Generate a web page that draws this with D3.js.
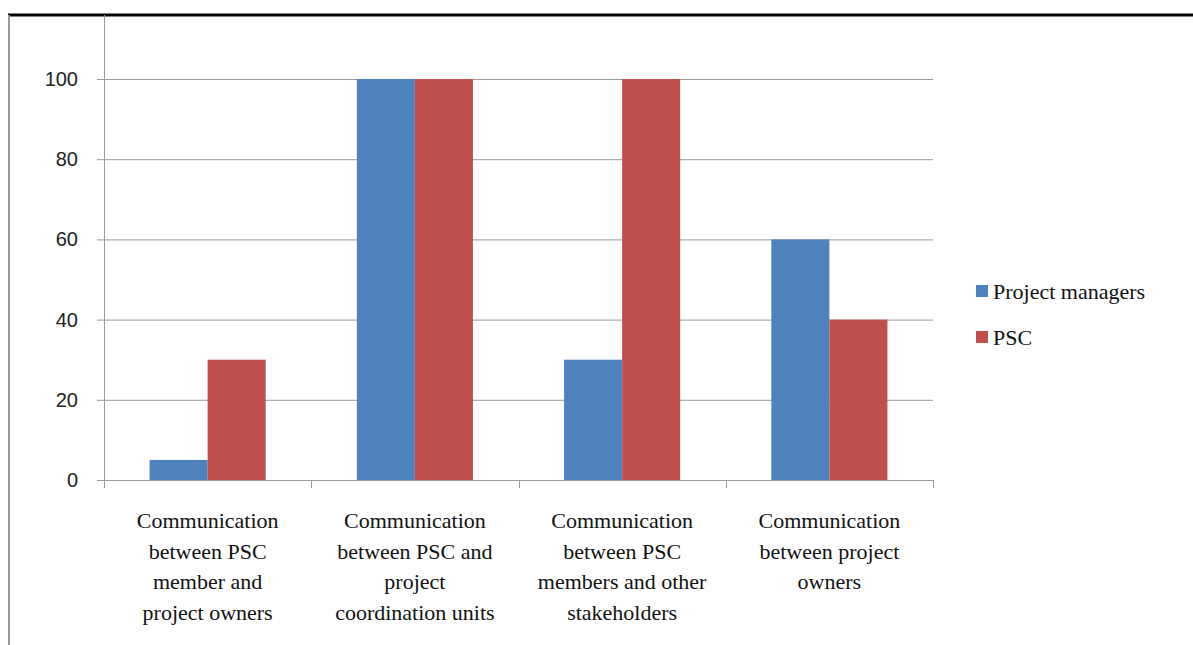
<html>
<script src="https://d3js.org/d3.v7.min.js"></script>
<style>
body {margin: 0; background: white;}
</style>
<body>
<svg width="1193" height="645"></svg>
<script>
var categories = [
  ["Communication", "between PSC", "member and", "project owners"],
  ["Communication", "between PSC and", "project", "coordination units"],
  ["Communication", "between PSC", "members and other", "stakeholders"],
  ["Communication", "between project", "owners"]
];
var series = ["Project managers", "PSC"];
var managers = [5, 100, 30, 60];
var psc = [30, 100, 100, 40];
var yTicks = [0, 20, 40, 60, 80, 100];
var colors = ["#4F81BD", "#C0504D"];

var svg = d3.select("svg");

// frame
svg.append("line").attr("x1", 8).attr("x2", 1193).attr("y1", 15).attr("y2", 15)
  .attr("stroke", "black").attr("stroke-width", 3);
svg.append("line").attr("x1", 9).attr("x2", 9).attr("y1", 15).attr("y2", 645)
  .attr("stroke", "#999").attr("stroke-width", 2);

var left = 104, right = 933;
var y = d3.scaleLinear().domain([0, 100]).range([480, 79]);
var x = d3.scaleBand().domain(d3.range(categories.length)).range([left, right]).paddingInner(0).paddingOuter(0);
var bw = x.bandwidth();
var inner = d3.scaleBand().domain(d3.range(series.length)).range([0, bw]).paddingOuter(0.785);

// gridlines + y ticks
var g = svg.append("g");
g.selectAll(".grid").data(yTicks).enter().append("line")
  .attr("x1", left - 7).attr("x2", right)
  .attr("y1", function(d) { return y(d) + 0.5; }).attr("y2", function(d) { return y(d) + 0.5; })
  .attr("stroke", "#9a9a9a").attr("stroke-width", 1);

g.selectAll(".ylab").data(yTicks).enter().append("text")
  .style("font-family", "Liberation Sans", "important").attr("font-size", 20).attr("fill", "#222")
  .attr("x", 78).attr("y", function(d) { return y(d); })
  .attr("dy", "0.35em").attr("text-anchor", "end")
  .text(function(d) { return d; });

// y axis line
svg.append("line").attr("x1", left + 0.5).attr("x2", left + 0.5).attr("y1", 15).attr("y2", 480)
  .attr("stroke", "#9a9a9a");

// bars
var data = categories.map(function(c, i) { return [managers[i], psc[i]]; });
var groups = svg.selectAll(".cat").data(data).enter().append("g")
  .attr("transform", function(d, i) { return "translate(" + x(i) + ",0)"; });
groups.selectAll("rect").data(function(d) { return d; }).enter().append("rect")
  .attr("x", function(d, j) { return inner(j); })
  .attr("width", inner.bandwidth())
  .attr("y", function(d) { return y(d); })
  .attr("height", function(d) { return y(0) - y(d); })
  .attr("fill", function(d, j) { return colors[j]; });

// x axis
svg.append("line").attr("x1", left).attr("x2", right).attr("y1", 480.5).attr("y2", 480.5)
  .attr("stroke", "#9a9a9a");
var bounds = d3.range(categories.length + 1).map(function(i) { return left + i * bw; });
svg.selectAll(".xt").data(bounds).enter().append("line")
  .attr("x1", function(d) { return Math.round(d) + 0.5; }).attr("x2", function(d) { return Math.round(d) + 0.5; })
  .attr("y1", 480).attr("y2", 488).attr("stroke", "#9a9a9a");

// category labels
svg.selectAll(".xlab").data(categories).enter().append("text")
  .style("font-family", "'Liberation Serif', serif", "important").attr("font-size", 22).attr("fill", "#111")
  .attr("text-anchor", "middle")
  .each(function(lines, i) {
    var t = d3.select(this);
    lines.forEach(function(l, k) {
      t.append("tspan").style("font-family", "'Liberation Serif', serif", "important")
        .attr("x", x(i) + bw / 2).attr("y", 528 + k * 30.5).text(l);
    });
  });

// legend
var leg = svg.append("g").attr("transform", "translate(976,291)");
series.forEach(function(s, i) {
  leg.append("rect").attr("x", 0).attr("y", i * 46 - 6).attr("width", 12).attr("height", 12).attr("fill", colors[i]);
  leg.append("text").style("font-family", "'Liberation Serif', serif", "important").attr("font-size", 22).attr("fill", "#111")
    .attr("x", 17).attr("y", i * 46).attr("dy", "0.35em")
    .text(s);
});
</script>
</body>
</html>
